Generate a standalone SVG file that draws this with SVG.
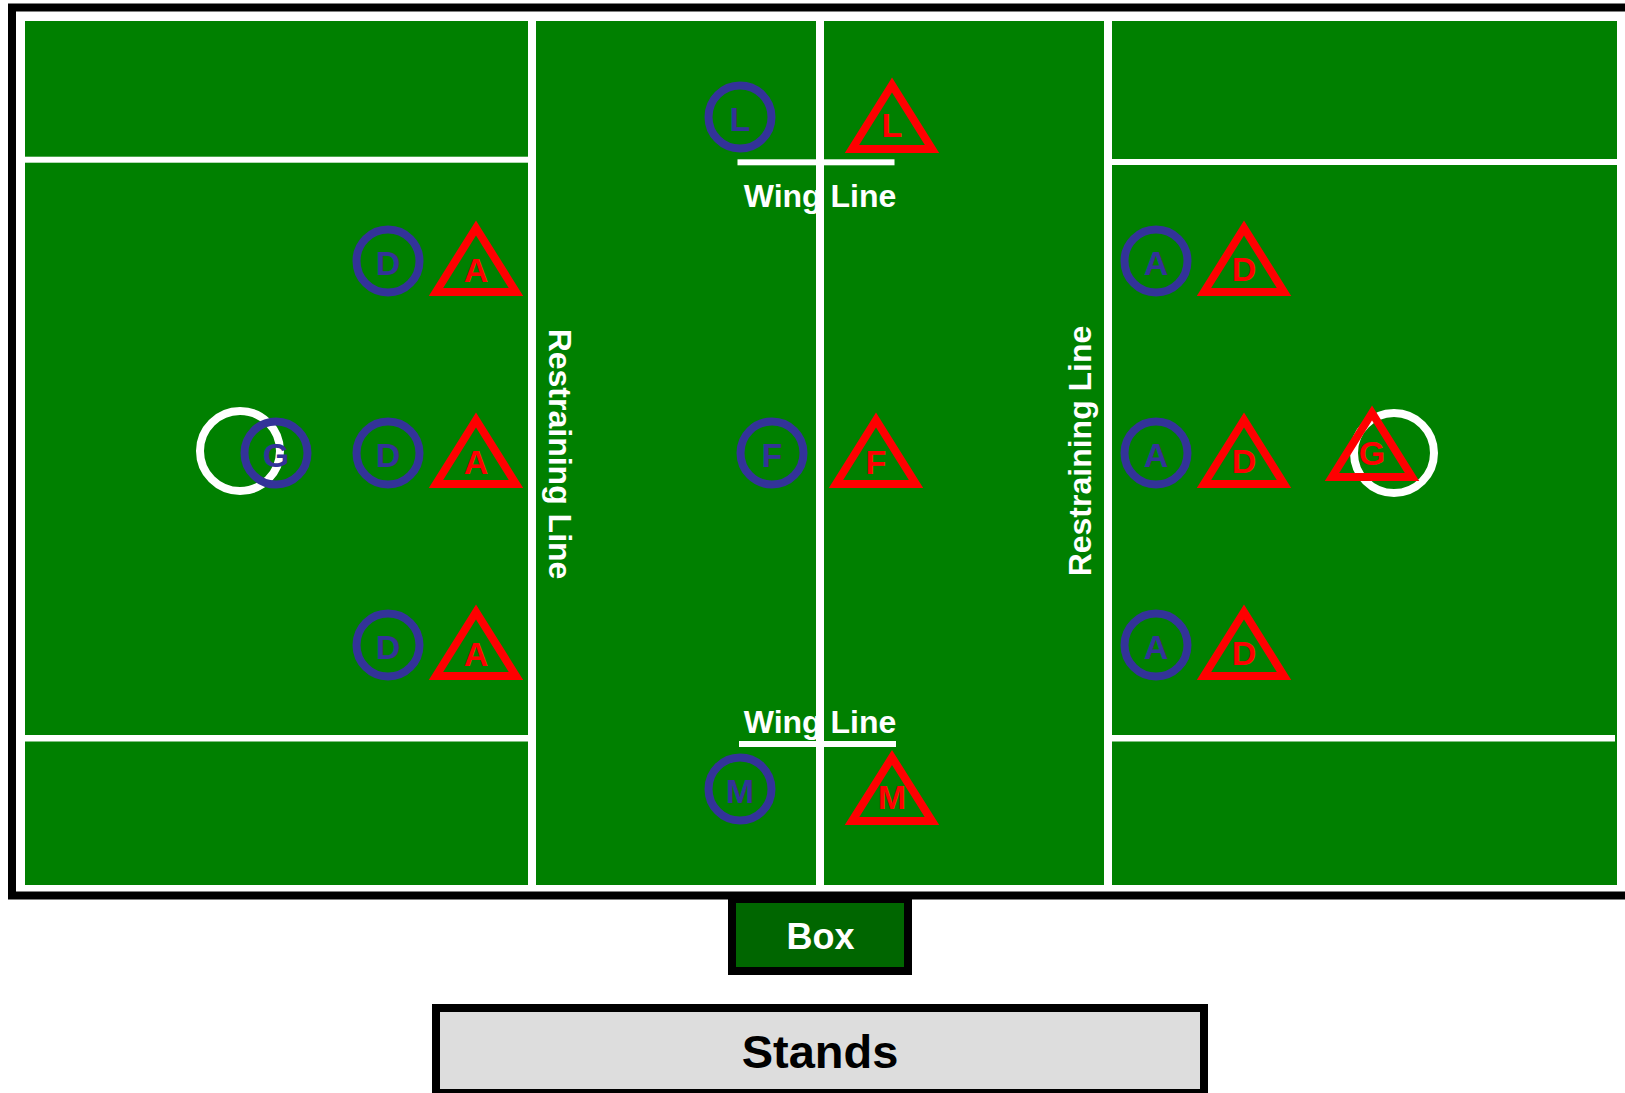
<svg xmlns="http://www.w3.org/2000/svg" width="1625" height="1093" viewBox="0 0 1625 1093">
<style>
text{font-family:"Liberation Sans",Arial,Helvetica,sans-serif;font-weight:bold;text-anchor:middle}
.wl{fill:#fff;font-size:32px}
.blue{fill:none;stroke:#333399;stroke-width:8}
.red{fill:none;stroke:#ff0000;stroke-width:8;stroke-linejoin:miter}
.bt{fill:#333399;font-size:34px}
.rt{fill:#ff0000;font-size:34px}
.goal{fill:none;stroke:#ffffff;stroke-width:8}
.ln{fill:#ffffff}
</style>
<rect x="0" y="0" width="1625" height="1093" fill="#ffffff"/>
<g id="field">
<rect x="12" y="7.5" width="1660" height="888" fill="#ffffff" stroke="#000000" stroke-width="8"/>
<rect x="25" y="21" width="1592" height="864" fill="#008000"/>
</g>
<g id="lines">
<rect class="ln" x="528" y="21" width="8" height="864"/>
<rect class="ln" x="816" y="21" width="8" height="864"/>
<rect class="ln" x="1104" y="21" width="8" height="864"/>
<rect class="ln" x="25" y="156.7" width="503" height="6"/>
<rect class="ln" x="25" y="735" width="503" height="6.5"/>
<rect class="ln" x="1112" y="159" width="505" height="6"/>
<rect class="ln" x="1112" y="735" width="503" height="6.5"/>
<rect class="ln" x="737.5" y="159.3" width="157" height="6"/>
<rect class="ln" x="739" y="741" width="157" height="6"/>
<text class="wl" x="820" y="206.5">Wing Line</text>
<text class="wl" x="820" y="733.3">Wing Line</text>
<text class="wl" transform="translate(549,454) rotate(90)">Restraining Line</text>
<text class="wl" transform="translate(1091,451) rotate(-90)">Restraining Line</text>
</g>
<g id="goal-left"><circle class="goal" cx="240" cy="451" r="40"/></g>
<g id="goal-right"><circle class="goal" cx="1394" cy="453" r="40"/></g>
<g id="blue-G"><circle class="blue" cx="276" cy="453" r="31.5"/><text class="bt" x="276" y="467">G</text></g>
<g id="blue-D1"><circle class="blue" cx="388" cy="261" r="31.5"/><text class="bt" x="388" y="275">D</text></g>
<g id="blue-D2"><circle class="blue" cx="388" cy="453" r="31.5"/><text class="bt" x="388" y="467">D</text></g>
<g id="blue-D3"><circle class="blue" cx="388" cy="645" r="31.5"/><text class="bt" x="388" y="659">D</text></g>
<g id="red-A1"><polygon class="red" points="476,228 436,292 516,292"/><text class="rt" x="476" y="282">A</text></g>
<g id="red-A2"><polygon class="red" points="476,420 436,484 516,484"/><text class="rt" x="476" y="474">A</text></g>
<g id="red-A3"><polygon class="red" points="476,612 436,676 516,676"/><text class="rt" x="476" y="666">A</text></g>
<g id="blue-L"><circle class="blue" cx="740" cy="117" r="31.5"/><text class="bt" x="740" y="131">L</text></g>
<g id="red-L"><polygon class="red" points="892,85 852,149 932,149"/><text class="rt" x="892" y="137">L</text></g>
<g id="blue-F"><circle class="blue" cx="772" cy="453" r="31.5"/><text class="bt" x="772" y="467">F</text></g>
<g id="red-F"><polygon class="red" points="876,420 836,484 916,484"/><text class="rt" x="876" y="474">F</text></g>
<g id="blue-M"><circle class="blue" cx="740" cy="789" r="31.5"/><text class="bt" x="740" y="802.5">M</text></g>
<g id="red-M"><polygon class="red" points="892,757.5 852,821 932,821"/><text class="rt" x="892" y="809">M</text></g>
<g id="blue-A1"><circle class="blue" cx="1156" cy="261" r="31.5"/><text class="bt" x="1156" y="275">A</text></g>
<g id="blue-A2"><circle class="blue" cx="1156" cy="453" r="31.5"/><text class="bt" x="1156" y="467">A</text></g>
<g id="blue-A3"><circle class="blue" cx="1156" cy="645" r="31.5"/><text class="bt" x="1156" y="659">A</text></g>
<g id="red-D1"><polygon class="red" points="1244,228 1204,292 1284,292"/><text class="rt" x="1244" y="281">D</text></g>
<g id="red-D2"><polygon class="red" points="1244,420 1204,484 1284,484"/><text class="rt" x="1244" y="473">D</text></g>
<g id="red-D3"><polygon class="red" points="1244,612 1204,676 1284,676"/><text class="rt" x="1244" y="665">D</text></g>
<g id="red-G"><polygon class="red" points="1372,413 1332,477 1412,477"/><text class="rt" x="1372" y="465">G</text></g>
<g id="box"><rect x="732" y="899" width="176" height="72" fill="#006600" stroke="#000000" stroke-width="8"/><text x="820.5" y="949" fill="#ffffff" font-size="36">Box</text></g>
<g id="stands"><rect x="436" y="1008" width="768" height="85" fill="#dddddd" stroke="#000000" stroke-width="8"/><text x="820" y="1068" fill="#000000" font-size="47">Stands</text></g>
</svg>
